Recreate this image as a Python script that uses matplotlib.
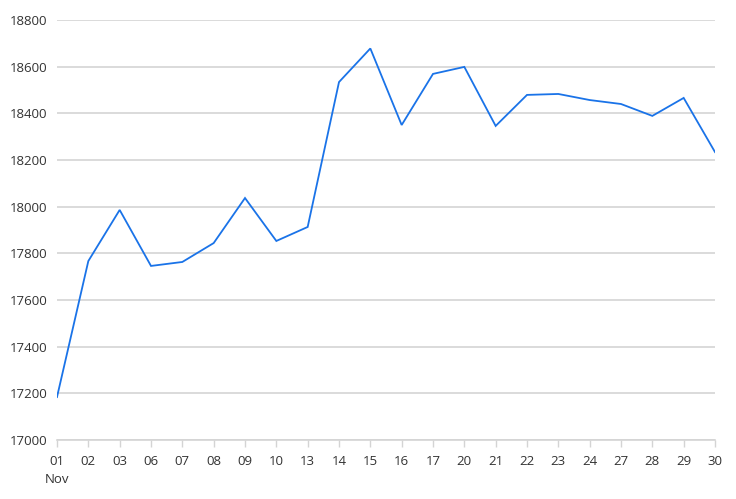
import matplotlib
matplotlib.use("Agg")
import matplotlib.pyplot as plt

days = ["01", "02", "03", "06", "07", "08", "09", "10", "13", "14", "15",
        "16", "17", "20", "21", "22", "23", "24", "27", "28", "29", "30"]
values = [17184, 17767, 17986, 17746, 17763, 17844, 18037, 17853, 17913, 18534, 18678,
          18350, 18569, 18599, 18346, 18479, 18483, 18457, 18440, 18389, 18466, 18234]
month = "Nov"
yticks = list(range(17000, 18801, 200))

plt.rcParams['font.family'] = ['Open Sans', 'DejaVu Sans']

fig = plt.figure(figsize=(7.36, 4.99), dpi=100)
ax = fig.add_axes([57/736, 59/499, 658/736, 420/499])

x = list(range(len(days)))
ax.plot(x, values, color="#1a73e8", linewidth=1.3, solid_joinstyle="miter")

ax.set_xlim(0, len(days) - 1)
ax.set_ylim(17000, 18800)
ax.set_yticks(yticks)
ax.set_yticklabels([str(v) for v in yticks])
labels = [d if i else d + "\n" + month for i, d in enumerate(days)]
ax.set_xticks(x)
ax.set_xticklabels(labels, linespacing=1.45)
for lbl in ax.get_xticklabels():
    lbl.set_verticalalignment("top")

ax.grid(axis="y", color="#d4d4d4", linewidth=1.2)
ax.set_axisbelow(True)
for s in ["top", "right", "left"]:
    ax.spines[s].set_visible(False)
ax.spines["bottom"].set_color("#d4d4d4")
ax.spines["bottom"].set_linewidth(1.2)

ax.tick_params(axis="y", length=0, pad=7, labelsize=9.5, labelcolor="#333333")
ax.tick_params(axis="x", length=5, width=1, color="#d4d4d4", pad=6,
               labelsize=9.5, labelcolor="#333333")

fig.savefig("out.png", dpi=100)
